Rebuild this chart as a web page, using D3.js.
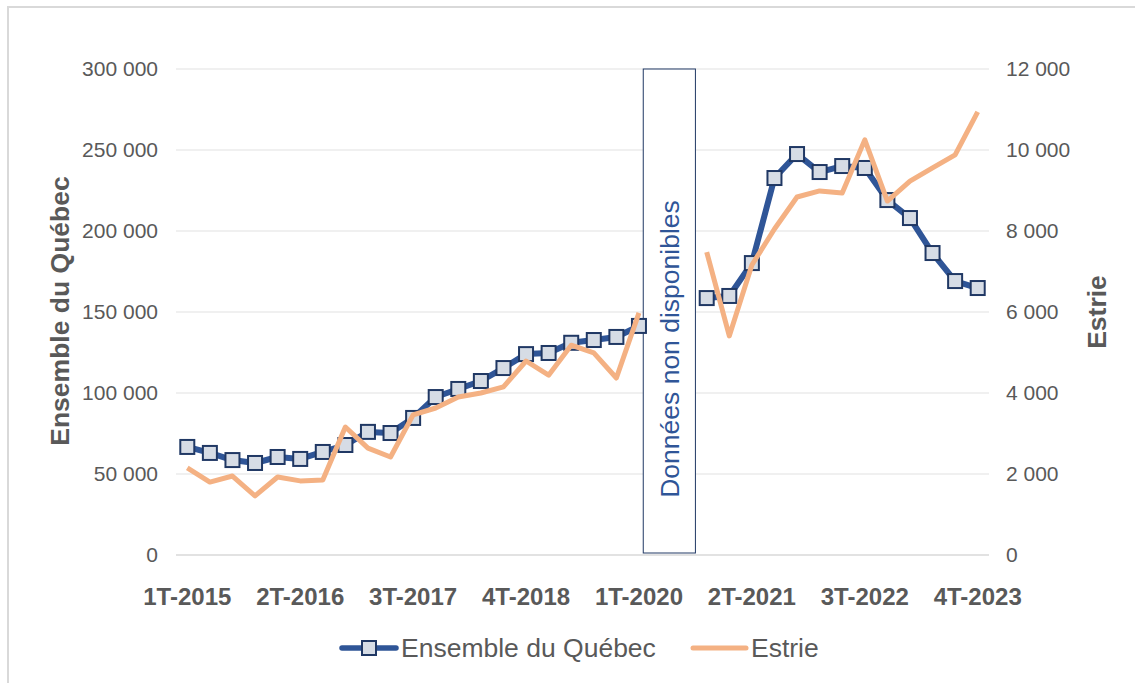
<!DOCTYPE html>
<html>
<head>
<meta charset="utf-8">
<script src="https://cdn.jsdelivr.net/npm/d3@7"></script>
<style>
  body { margin: 0; background: #fff; }
  text { font-family: "Liberation Sans", Arial, sans-serif; }
</style>
</head>
<body>
<div id="chart"></div>
<script>
const quarters = [
    "1T-2015", "2T-2015", "3T-2015", "4T-2015",
    "1T-2016", "2T-2016", "3T-2016", "4T-2016",
    "1T-2017", "2T-2017", "3T-2017", "4T-2017",
    "1T-2018", "2T-2018", "3T-2018", "4T-2018",
    "1T-2019", "2T-2019", "3T-2019", "4T-2019",
    "1T-2020", "2T-2020", "3T-2020", "4T-2020",
    "1T-2021", "2T-2021", "3T-2021", "4T-2021",
    "1T-2022", "2T-2022", "3T-2022", "4T-2022",
    "1T-2023", "2T-2023", "3T-2023", "4T-2023"
];
const shownLabels = ["1T-2015", "2T-2016", "3T-2017", "4T-2018", "1T-2020", "2T-2021", "3T-2022", "4T-2023"];

// Ensemble du Québec (left axis)
const quebec = [66700, 63000, 58600, 56800, 60500, 59300, 63600, 67900, 76000, 75300,
    84600, 97500, 102500, 107400, 115400, 124000, 124700, 131000, 132700, 134600,
    141400, null, null, 158600, 159900, 180200, 232700, 247500, 236400, 240100,
    238900, 219100, 208000, 186400, 169100, 164800];

// Estrie (right axis)
const estrie = [2150, 1800, 1950, 1460, 1925, 1830, 1850, 3160, 2640, 2420,
    3460, 3630, 3900, 4000, 4150, 4790, 4440, 5180, 4990, 4370,
    5980, null, null, 7480, 5410, 7160, 8050, 8840, 8990, 8940,
    10250, 8740, 9230, 9560, 9880, 10940];

const leftTicks = [0, 50000, 100000, 150000, 200000, 250000, 300000];
const rightTicks = [0, 2000, 4000, 6000, 8000, 10000, 12000];
const gapStart = "2T-2020", gapEnd = "3T-2020";

const svgWidth = 1135, svgHeight = 683;
const margin = { top: 69, right: 146, bottom: 128, left: 176 };
const width = svgWidth - margin.left - margin.right;
const height = svgHeight - margin.top - margin.bottom;

const blue = "#2F5597", navy = "#203864", orange = "#F4B183", grey = "#595959";

const fr = d3.formatLocale({ decimal: ",", thousands: " ", grouping: [3], currency: ["", " $"] });
const fmt = fr.format(",d");

const svg = d3.select("#chart").append("svg")
    .attr("width", svgWidth)
    .attr("height", svgHeight);

// outer frame (only top and left edges are visible)
svg.append("rect")
    .attr("x", 8).attr("y", 7)
    .attr("width", 1200).attr("height", 800)
    .attr("fill", "none")
    .attr("stroke", "#d9d9d9")
    .attr("stroke-width", 2);

const g = svg.append("g").attr("transform", `translate(${margin.left},${margin.top})`);

const x = d3.scaleBand().domain(quarters).range([0, width]);
const cx = d => x(d) + x.bandwidth() / 2;
const yLeft = d3.scaleLinear().domain([0, 300000]).range([height, 0]);
const yRight = d3.scaleLinear().domain([0, 12000]).range([height, 0]);

// gridlines
g.append("g")
    .selectAll("line")
    .data(leftTicks)
    .join("line")
    .attr("x1", 0).attr("x2", width)
    .attr("y1", d => yLeft(d)).attr("y2", d => yLeft(d))
    .attr("stroke", d => d === 0 ? "#d9d9d9" : "#ebebeb")
    .attr("stroke-width", 1.5);

// left axis labels
g.append("g")
    .call(d3.axisLeft(yLeft).tickValues(leftTicks).tickFormat(fmt).tickSize(0).tickPadding(18))
    .call(a => a.select(".domain").remove())
    .selectAll("text")
    .attr("font-family", "Liberation Sans, Arial, sans-serif")
    .attr("font-size", "21px")
    .attr("fill", grey);

// right axis labels
g.append("g")
    .attr("transform", `translate(${width},0)`)
    .call(d3.axisRight(yRight).tickValues(rightTicks).tickFormat(fmt).tickSize(0).tickPadding(17))
    .call(a => a.select(".domain").remove())
    .selectAll("text")
    .attr("font-family", "Liberation Sans, Arial, sans-serif")
    .attr("font-size", "21px")
    .attr("fill", grey);

// bottom axis labels
g.append("g")
    .attr("transform", `translate(0,${height})`)
    .call(d3.axisBottom(x).tickValues(shownLabels).tickSize(0).tickPadding(33))
    .call(a => a.select(".domain").remove())
    .selectAll("text")
    .attr("font-family", "Liberation Sans, Arial, sans-serif")
    .attr("font-size", "24px")
    .attr("font-weight", "bold")
    .attr("fill", grey);

// axis titles
svg.append("text")
    .attr("transform", `translate(69,${margin.top + height / 2 - 1}) rotate(-90)`)
    .attr("text-anchor", "middle")
    .attr("font-size", "26.5px")
    .attr("font-weight", "bold")
    .attr("fill", grey)
    .text("Ensemble du Québec");

svg.append("text")
    .attr("transform", `translate(1106,${margin.top + height / 2}) rotate(-90)`)
    .attr("text-anchor", "middle")
    .attr("font-size", "26.5px")
    .attr("font-weight", "bold")
    .attr("fill", grey)
    .text("Estrie");

// "data not available" box over the missing quarters
const boxX = x(gapStart) - 7;
const boxW = x(gapEnd) + x.bandwidth() - boxX;
g.append("rect")
    .attr("x", boxX).attr("y", 0)
    .attr("width", boxW).attr("height", height - 2)
    .attr("fill", "#fff")
    .attr("stroke", navy)
    .attr("stroke-width", 1);

g.append("text")
    .attr("transform", `translate(${boxX + boxW / 2 + 10},${height / 2 + 37}) rotate(-90)`)
    .attr("text-anchor", "middle")
    .attr("font-size", "26.5px")
    .attr("fill", blue)
    .text("Données non disponibles");

// Québec line + markers
const lineQuebec = d3.line()
    .defined(d => d[1] !== null)
    .x(d => cx(d[0]))
    .y(d => yLeft(d[1]));

const qData = quarters.map((q, i) => [q, quebec[i]]);

g.append("path")
    .datum(qData)
    .attr("fill", "none")
    .attr("stroke", blue)
    .attr("stroke-width", 6)
    .attr("stroke-linejoin", "round")
    .attr("d", lineQuebec);

g.selectAll(".mk")
    .data(qData.filter(d => d[1] !== null))
    .join("rect")
    .attr("class", "mk")
    .attr("x", d => cx(d[0]) - 7)
    .attr("y", d => yLeft(d[1]) - 7)
    .attr("width", 14).attr("height", 14)
    .attr("fill", "#D6DCE5")
    .attr("stroke", navy)
    .attr("stroke-width", 2);

// Estrie line, drawn on top
const lineEstrie = d3.line()
    .defined(d => d[1] !== null)
    .x(d => cx(d[0]))
    .y(d => yRight(d[1]));

g.append("path")
    .datum(quarters.map((q, i) => [q, estrie[i]]))
    .attr("fill", "none")
    .attr("stroke", orange)
    .attr("stroke-width", 5)
    .attr("stroke-linejoin", "round")
    .attr("d", lineEstrie);

// legend
const legend = svg.append("g").attr("transform", "translate(0,648)");
legend.append("line")
    .attr("x1", 342).attr("x2", 396)
    .attr("stroke", blue).attr("stroke-width", 5.5).attr("stroke-linecap", "round");
legend.append("rect")
    .attr("x", 362).attr("y", -7).attr("width", 14).attr("height", 14)
    .attr("fill", "#D6DCE5").attr("stroke", navy).attr("stroke-width", 2);
legend.append("text")
    .attr("x", 401).attr("y", 9)
    .attr("font-size", "26.5px").attr("fill", grey)
    .text("Ensemble du Québec");
legend.append("line")
    .attr("x1", 693).attr("x2", 746)
    .attr("stroke", orange).attr("stroke-width", 5).attr("stroke-linecap", "round");
legend.append("text")
    .attr("x", 751).attr("y", 9)
    .attr("font-size", "26.5px").attr("fill", grey)
    .text("Estrie");
</script>
</body>
</html>
